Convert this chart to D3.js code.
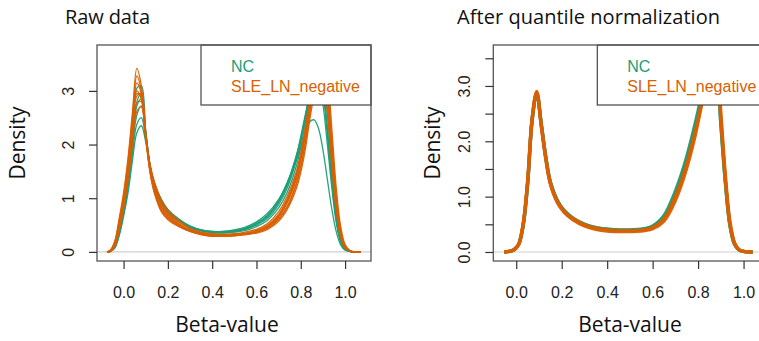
<!DOCTYPE html>
<html><head><meta charset="utf-8">
<script src="https://cdn.jsdelivr.net/npm/d3@7"></script>
<style>body{margin:0;background:#fff}svg{display:block}</style>
</head><body>
<svg id="c" width="759" height="341"></svg>
<script>
// ---------- data ----------
const groups = ["NC", "SLE_LN_negative"];
const groupColors = ["#1b9e77", "#d95f02"];
const panelTitles = ["Raw data", "After quantile normalization"];
const xLabel = "Beta-value";
const yLabel = "Density";
const xTicks = [0, 0.2, 0.4, 0.6, 0.8, 1.0];
const xTickLabels = ["0.0", "0.2", "0.4", "0.6", "0.8", "1.0"];
const rawYTicks = [0, 1, 2, 3];
const rawYLabels = ["0", "1", "2", "3"];
const normYTicks = [0, 0.5, 1, 1.5, 2, 2.5, 3, 3.5];
const normYLabels = ["0.0", "", "1.0", "", "2.0", "", "3.0", ""];

// beta-value grid of the raw density curves
const rawGrid = [-0.075,-0.06,-0.04,-0.02,0,0.02,0.04,0.06,0.08,0.10,0.12,0.14,0.17,0.20,
  0.25,0.30,0.35,0.40,0.45,0.50,0.55,0.60,0.65,0.70,
  0.74,0.78,0.80,0.82,0.84,0.86,0.88,0.90,0.92,0.94,0.96,0.98,1.00,1.02,1.04,1.07];

const rawNC = [
  [0,0.01,0.12,0.45,0.88,1.45,2.25,3.05,3.1,2.25,1.58,1.18,0.90,0.72,
   0.56,0.45,0.39,0.36,0.36,0.38,0.42,0.50,0.63,0.88,
   1.2,1.7,2.05,2.5,2.95,3.3,3.4,3.0,2.2,1.3,0.6,0.2,0.05,0.01,0,0],
  [0,0.01,0.1,0.4,0.82,1.35,2.1,2.8,2.95,2.25,1.6,1.22,0.93,0.75,
   0.58,0.46,0.40,0.37,0.37,0.39,0.44,0.53,0.68,0.95,
   1.3,1.8,2.15,2.55,2.9,3.15,3.15,2.75,2.0,1.2,0.55,0.18,0.05,0.01,0,0],
  [0,0.01,0.08,0.35,0.75,1.25,1.95,2.55,2.72,2.2,1.6,1.24,0.95,0.76,
   0.59,0.47,0.40,0.37,0.37,0.39,0.43,0.52,0.66,0.92,
   1.25,1.75,2.1,2.5,2.9,3.2,3.3,3.0,2.25,1.35,0.62,0.21,0.05,0.01,0,0],
  [0,0.01,0.08,0.32,0.7,1.18,1.82,2.38,2.5,2.1,1.6,1.26,0.97,0.78,
   0.60,0.48,0.41,0.38,0.38,0.41,0.46,0.56,0.72,0.98,
   1.3,1.7,1.95,2.2,2.42,2.46,2.3,1.9,1.35,0.8,0.38,0.13,0.03,0.01,0,0],
  [0,0.01,0.07,0.3,0.66,1.1,1.7,2.22,2.35,2.05,1.6,1.27,0.98,0.79,
   0.61,0.48,0.41,0.38,0.38,0.40,0.44,0.53,0.68,0.95,
   1.28,1.78,2.1,2.5,2.9,3.2,3.3,3.0,2.3,1.4,0.65,0.22,0.06,0.01,0,0],
  [0,0.01,0.1,0.38,0.8,1.32,2.05,2.72,2.85,2.2,1.58,1.2,0.92,0.74,
   0.57,0.46,0.39,0.36,0.35,0.37,0.40,0.47,0.59,0.82,
   1.12,1.6,1.95,2.4,2.9,3.35,3.55,3.3,2.55,1.55,0.72,0.25,0.06,0.01,0,0]
];

const rawSLE = [
  [0,0.03,0.2,0.62,1.1,1.75,2.6,3.42,3.1,2.2,1.52,1.15,0.82,0.66,
   0.50,0.40,0.34,0.31,0.30,0.31,0.33,0.37,0.46,0.65,
   0.92,1.35,1.7,2.15,2.7,3.2,3.55,3.5,2.8,1.75,0.85,0.3,0.08,0.02,0,0],
  [0,0.02,0.17,0.55,1.0,1.6,2.4,3.15,2.95,2.15,1.5,1.12,0.8,0.64,
   0.49,0.39,0.33,0.30,0.30,0.31,0.33,0.37,0.45,0.62,
   0.86,1.28,1.6,2.05,2.6,3.1,3.5,3.55,3.0,1.95,0.95,0.35,0.1,0.02,0,0],
  [0,0.01,0.12,0.45,0.88,1.45,2.2,2.9,2.95,2.2,1.56,1.2,0.88,0.70,
   0.53,0.41,0.35,0.32,0.31,0.32,0.34,0.38,0.47,0.66,
   0.95,1.4,1.75,2.2,2.75,3.25,3.5,3.3,2.6,1.6,0.75,0.27,0.07,0.02,0,0],
  [0,0.01,0.12,0.42,0.85,1.4,2.1,2.78,2.8,2.15,1.58,1.25,0.92,0.74,
   0.56,0.43,0.36,0.33,0.32,0.33,0.35,0.40,0.50,0.70,
   1.0,1.45,1.8,2.25,2.8,3.3,3.6,3.6,3.05,2.0,0.98,0.38,0.1,0.02,0,0],
  [0,0.02,0.15,0.5,0.95,1.55,2.3,3.0,2.85,2.1,1.46,1.08,0.75,0.60,
   0.47,0.38,0.32,0.29,0.29,0.30,0.32,0.35,0.42,0.57,
   0.8,1.18,1.48,1.9,2.45,2.95,3.4,3.6,3.3,2.3,1.2,0.48,0.14,0.03,0,0],
  [0,0.01,0.1,0.4,0.8,1.32,2.0,2.62,2.7,2.15,1.62,1.3,0.98,0.78,
   0.58,0.44,0.37,0.34,0.33,0.34,0.37,0.42,0.53,0.75,
   1.05,1.5,1.85,2.3,2.85,3.3,3.55,3.4,2.75,1.75,0.85,0.32,0.09,0.02,0,0],
  [0,0.03,0.18,0.58,1.05,1.68,2.5,3.28,3.0,2.15,1.48,1.1,0.78,0.62,
   0.48,0.38,0.32,0.29,0.29,0.30,0.32,0.36,0.44,0.60,
   0.84,1.25,1.58,2.0,2.55,3.05,3.45,3.5,3.1,2.1,1.05,0.4,0.11,0.03,0,0],
  [0,0.02,0.14,0.48,0.92,1.5,2.25,2.95,2.9,2.15,1.54,1.18,0.85,0.68,
   0.52,0.40,0.34,0.31,0.31,0.32,0.34,0.39,0.48,0.68,
   0.97,1.42,1.77,2.22,2.78,3.28,3.58,3.45,2.9,1.85,0.9,0.34,0.09,0.02,0,0]
];

// beta-value grid of the normalized density curves
const normGrid = [-0.053,-0.03,-0.01,0.01,0.03,0.05,0.07,0.09,0.11,0.13,0.15,0.18,0.21,0.25,
  0.30,0.35,0.40,0.45,0.50,0.55,0.60,0.65,0.70,0.74,0.78,0.80,0.82,0.84,0.86,0.88,
  0.90,0.92,0.94,0.96,0.98,1.00,1.04];

const normNC = [
  [0,0.01,0.04,0.13,0.47,1.22,2.38,2.88,2.32,1.72,1.27,0.94,0.75,0.61,
   0.5,0.44,0.41,0.4,0.4,0.41,0.47,0.66,1.1,1.58,2.2,2.55,2.95,3.35,3.55,3.4,
   2.3,1.25,0.48,0.14,0.04,0.01,0],
  [0,0.01,0.04,0.13,0.47,1.23,2.39,2.87,2.31,1.71,1.26,0.93,0.75,0.6,
   0.5,0.44,0.41,0.395,0.395,0.405,0.46,0.63,1.05,1.52,2.13,2.48,2.88,3.3,3.55,3.45,
   2.35,1.28,0.49,0.15,0.04,0.01,0]
];
const normSLE = [
  [0,0.01,0.04,0.13,0.48,1.25,2.4,2.88,2.3,1.7,1.25,0.92,0.74,0.6,
   0.49,0.43,0.40,0.385,0.385,0.395,0.44,0.6,1.0,1.45,2.05,2.4,2.8,3.25,3.55,3.5,
   2.4,1.3,0.5,0.15,0.04,0.01,0],
  [0,0.01,0.04,0.14,0.5,1.28,2.42,2.9,2.28,1.68,1.23,0.9,0.72,0.58,
   0.47,0.41,0.38,0.37,0.37,0.38,0.42,0.56,0.93,1.38,1.98,2.35,2.75,3.2,3.55,3.55,
   2.5,1.38,0.55,0.17,0.04,0.01,0]
];

// ---------- drawing ----------
const svg = d3.select("#c");
const tickFont = "'Liberation Sans', Arial, Helvetica, sans-serif";
const labelFont = "'Open Sans', 'Noto Sans', sans-serif";

const panels = [
  { title: panelTitles[0], titleX: 65, titleW: 85, box: [97, 45, 371, 261],
    xDom: [-0.12, 1.117], yDom: [-0.17, 3.855],
    yTicks: rawYTicks, yLabels: rawYLabels, grid: rawGrid, series: [rawNC, rawSLE],
    lw: 1.3, legendLeft: 201, densityX: 25, betaX: 227 },
  { title: panelTitles[1], titleX: 457, titleW: 263, box: [493.3, 45, 763, 261],
    xDom: [-0.1009, 1.0855], yDom: [-0.163, 3.74],
    yTicks: normYTicks, yLabels: normYLabels, grid: normGrid, series: [normNC, normSLE],
    lw: 3.4, legendLeft: 597.3, densityX: 440, betaX: 630 }
];

panels.forEach(p => {
  const [l, t, r, b] = p.box;
  const x = d3.scaleLinear().domain(p.xDom).range([l, r]);
  const y = d3.scaleLinear().domain(p.yDom).range([b, t]);
  const g = svg.append("g");

  // zero reference line
  g.append("line").attr("x1", l).attr("x2", r).attr("y1", y(0)).attr("y2", y(0))
    .attr("stroke", "#cfcfcf").attr("stroke-width", 1.2);

  // density curves
  const line = d3.line().x((d, i) => x(p.grid[i])).y(d => y(d))
    .curve(d3.curveCatmullRom.alpha(0.5));
  p.series.forEach((curves, gi) => {
    curves.forEach(c => {
      g.append("path").attr("d", line(c)).attr("fill", "none")
        .attr("stroke", groupColors[gi]).attr("stroke-width", p.lw)
        .attr("stroke-linejoin", "round").attr("stroke-opacity", 0.95);
    });
  });

  // legend
  g.append("rect").attr("x", p.legendLeft).attr("y", t)
    .attr("width", r - p.legendLeft).attr("height", 105 - t)
    .attr("fill", "#fff").attr("stroke", "#444").attr("stroke-width", 1.2);
  groups.forEach((name, i) => {
    g.append("text").attr("x", p.legendLeft + 30).attr("y", 72 + i * 20)
      .attr("font-family", tickFont).attr("font-size", 16)
      .attr("fill", groupColors[i]).text(name);
  });

  // box
  g.append("rect").attr("x", l).attr("y", t).attr("width", r - l).attr("height", b - t)
    .attr("fill", "none").attr("stroke", "#555").attr("stroke-width", 1.3);

  // x axis
  const xa = g.append("g").attr("transform", `translate(0,${b})`)
    .call(d3.axisBottom(x).tickValues(xTicks).tickSize(8)
      .tickFormat((d, i) => xTickLabels[i]));
  xa.select(".domain").remove();
  xa.selectAll(".tick line").attr("stroke", "#333").attr("stroke-width", 1.2);
  xa.selectAll(".tick text").attr("y", 37).attr("dy", 0)
    .attr("font-family", tickFont).attr("font-size", 16).attr("fill", "#222");

  // y axis
  const ya = g.append("g").attr("transform", `translate(${l},0)`)
    .call(d3.axisLeft(y).tickValues(p.yTicks).tickSize(8)
      .tickFormat((d, i) => p.yLabels[i]));
  ya.select(".domain").remove();
  ya.selectAll(".tick line").attr("stroke", "#333").attr("stroke-width", 1.2);
  ya.selectAll(".tick text").attr("x", 0).attr("dy", 0)
    .attr("transform", "translate(-23,0) rotate(-90)")
    .attr("text-anchor", "middle")
    .attr("font-family", tickFont).attr("font-size", 16).attr("fill", "#222");

  // titles & labels
  svg.append("text").attr("x", p.titleX).attr("y", 24)
    .attr("font-family", labelFont).attr("font-size", 20).attr("fill", "#111")
    .attr("textLength", p.titleW).attr("lengthAdjust", "spacing")
    .text(p.title);
  svg.append("text").attr("transform", `translate(${p.densityX},143) rotate(-90)`)
    .attr("text-anchor", "middle")
    .attr("font-family", labelFont).attr("font-size", 21).attr("fill", "#111")
    .text(yLabel);
  svg.append("text").attr("x", p.betaX).attr("y", 332).attr("text-anchor", "middle")
    .attr("font-family", labelFont).attr("font-size", 21).attr("fill", "#111")
    .text(xLabel);
});
</script>
</body></html>
